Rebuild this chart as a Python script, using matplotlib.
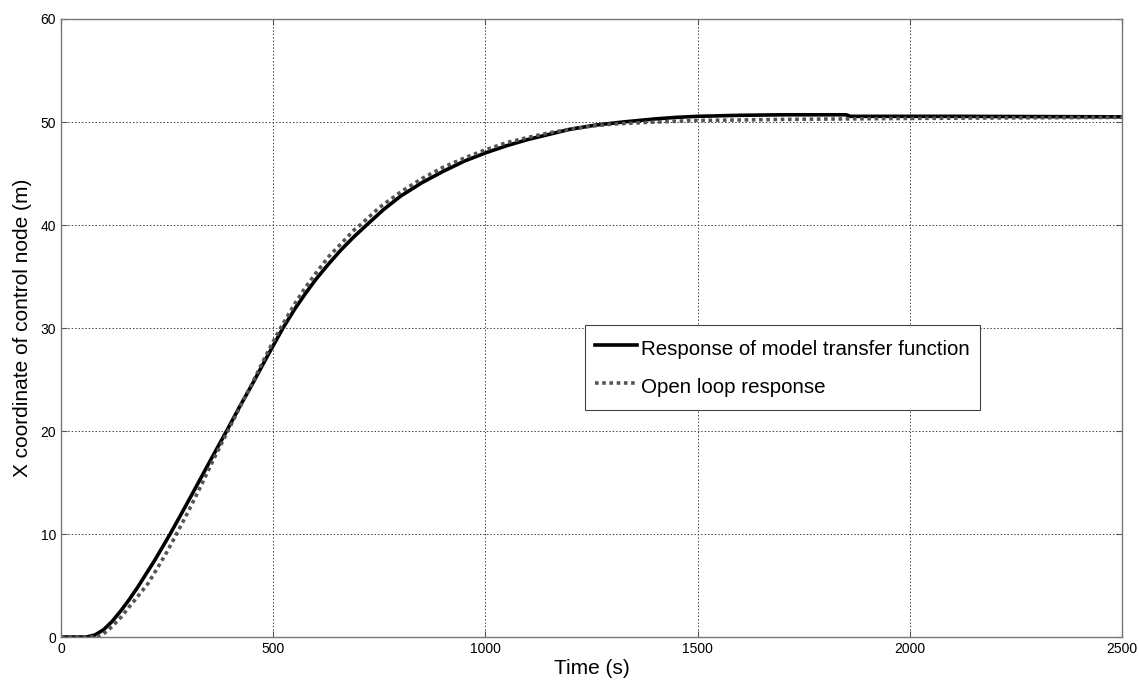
"""
Response of model transfer function vs. open loop response (X coordinate of control node).
Output: out.png
"""
import matplotlib
matplotlib.use("Agg")
import matplotlib.pyplot as plt

# Values
t_model = [0, 60, 80, 100, 120, 140, 160, 180, 200, 220, 240, 257, 280, 300, 325,
           350, 370, 390, 420, 450, 480, 500, 523, 550, 575, 600, 630, 660, 690,
           720, 760, 800, 850, 900, 950, 1000, 1050, 1100, 1150, 1200, 1260, 1324,
           1400, 1450, 1500, 1600, 1700, 1850, 1860, 2100, 2500]
x_model = [0, 0, 0.2, 0.7, 1.5, 2.5, 3.6, 4.8, 6.1, 7.4, 8.8, 10.0, 11.7, 13.2, 15.1,
           17.0, 18.5, 20.0, 22.3, 24.5, 26.8, 28.3, 30.0, 31.8, 33.3, 34.7, 36.2,
           37.6, 38.85, 40.0, 41.5, 42.8, 44.1, 45.2, 46.2, 47.0, 47.7, 48.3, 48.8,
           49.3, 49.7, 50.0, 50.3, 50.45, 50.55, 50.65, 50.7, 50.7, 50.55, 50.55, 50.5]

t_open = [0, 85, 100, 120, 143, 160, 180, 205, 230, 250, 272, 300, 330, 360, 393,
          420, 450, 480, 500, 520, 550, 575, 600, 630, 660, 690, 705, 750, 800,
          850, 900, 950, 1000, 1050, 1100, 1150, 1200, 1250, 1300, 1400, 1500,
          1700, 2000, 2500]
x_open = [0, 0, 0.3, 1.0, 2.0, 2.9, 3.9, 5.2, 6.9, 8.3, 10.0, 12.2, 14.7, 17.3, 20.0,
          22.2, 24.6, 27.1, 28.7, 30.2, 32.3, 33.9, 35.3, 36.9, 38.2, 39.5, 40.0,
          41.7, 43.2, 44.5, 45.6, 46.5, 47.3, 48.0, 48.5, 48.95, 49.3, 49.6, 49.8,
          50.0, 50.15, 50.25, 50.35, 50.45]

x_ticks = [0, 500, 1000, 1500, 2000, 2500]
y_ticks = [0, 10, 20, 30, 40, 50, 60]

plt.rcParams["font.family"] = ["Liberation Sans", "DejaVu Sans"]


def main() -> None:
    fig = plt.figure(figsize=(11.39, 6.81), dpi=100)
    ax = fig.add_axes([0.0536, 0.0646, 0.9315, 0.9075])

    ax.plot(t_model, x_model, color="black", lw=2.6,
            label="Response of model transfer function")
    ax.plot(t_open, x_open, color="#555555", lw=2.6, linestyle=(0, (1, 1)),
            label="Open loop response")

    ax.set_xlim(0, 2500)
    ax.set_ylim(0, 60)
    ax.set_xticks(x_ticks)
    ax.set_yticks(y_ticks)
    ax.tick_params(direction="in", top=True, right=True, labelsize=10, length=4,
                   color="#555555")
    ax.grid(True, linestyle=(0, (1.5, 2)), color="#444444", lw=0.7)
    for s in ax.spines.values():
        s.set_color("#777777")
        s.set_linewidth(1.0)

    ax.set_xlabel("Time (s)", fontsize=15, labelpad=2)
    ax.set_ylabel("X coordinate of control node (m)", fontsize=15, labelpad=6)

    leg = ax.legend(loc="upper left", bbox_to_anchor=(0.494, 0.505),
                    fontsize=14.8, fancybox=False, edgecolor="#444444",
                    framealpha=1, handlelength=2.0, handletextpad=0.2,
                    handleheight=1.6, labelspacing=0.55, borderpad=0.5,
                    borderaxespad=0)
    leg.get_frame().set_linewidth(0.8)

    fig.savefig("out.png", dpi=100)
    plt.close(fig)


if __name__ == "__main__":
    main()
